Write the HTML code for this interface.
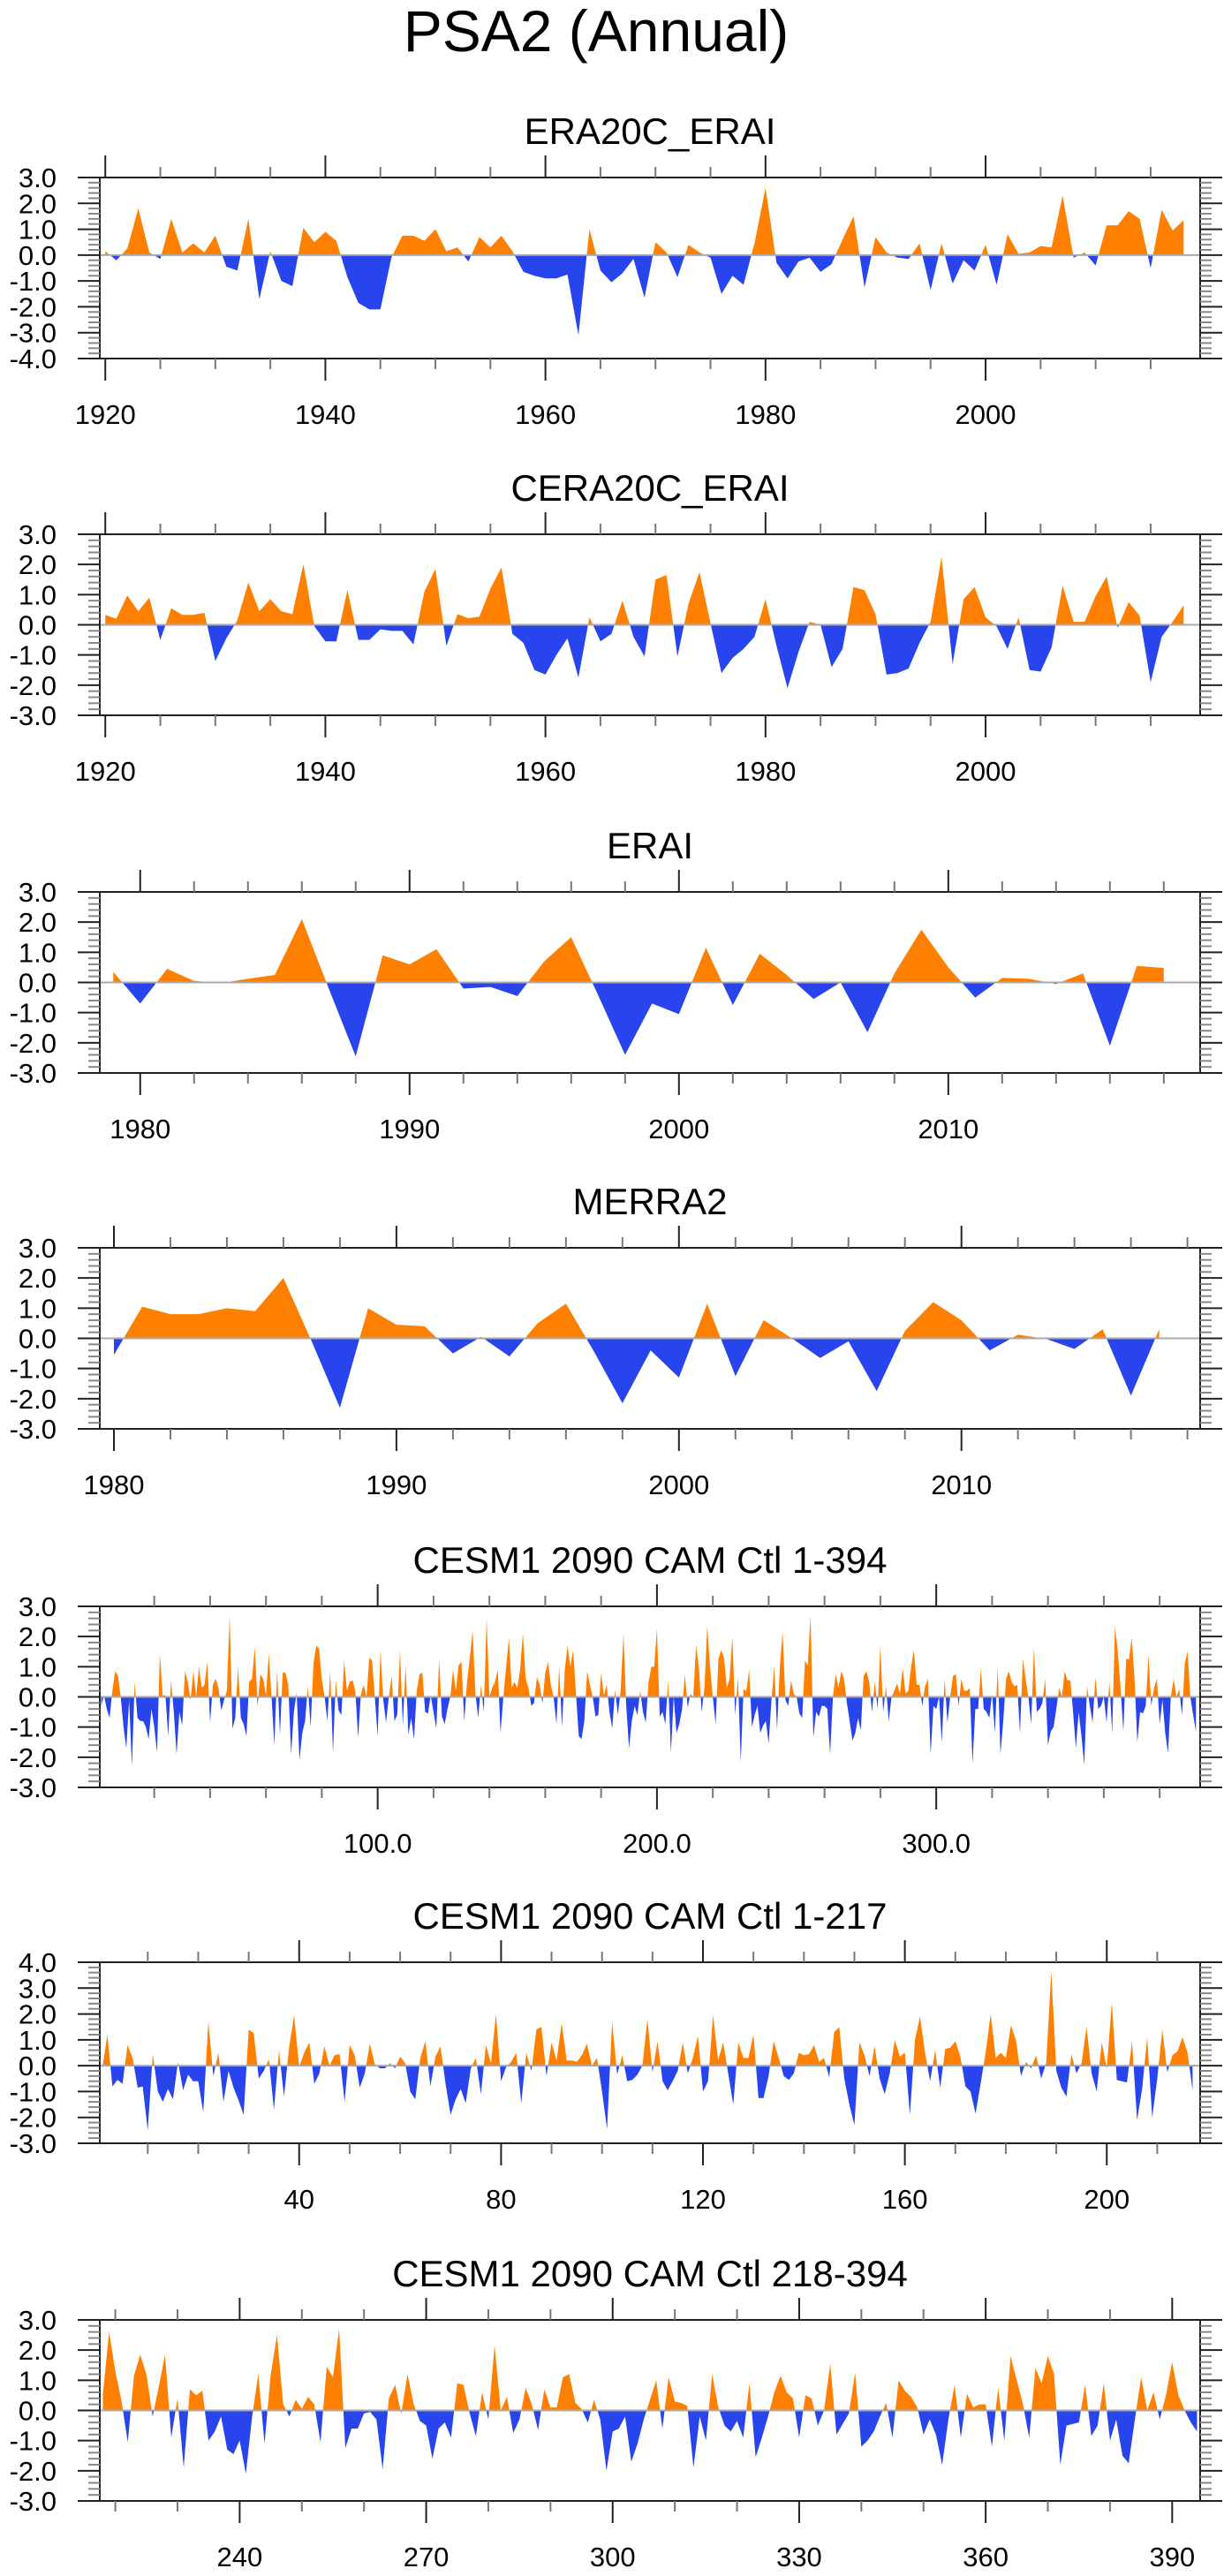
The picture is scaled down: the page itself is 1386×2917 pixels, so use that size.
<!DOCTYPE html>
<html><head><meta charset="utf-8"><style>
html,body{margin:0;padding:0;background:#fff;}
svg{display:block;font-family:"Liberation Sans",Arial,sans-serif;}
</style></head>
<body>
<svg id="chart" width="1386" height="2917" viewBox="0 0 1386 2917" xmlns="http://www.w3.org/2000/svg">
<rect x="0" y="0" width="1386" height="2917" fill="#fff"/>
<text x="675" y="58" font-size="66" text-anchor="middle" fill="#000">PSA2 (Annual)</text>
<g id="panels"></g>
</svg>
<script>
const era20cYears = [1920, 2018];
const era20cValues = [0.15,-0.2,0.25,1.8,0.1,-0.15,1.4,0.1,0.45,0.1,0.75,-0.45,-0.6,1.4,-1.7,0.15,-1.0,-1.2,1.05,0.5,0.9,0.55,-0.85,-1.85,-2.1,-2.1,-0.1,0.75,0.75,0.55,1.0,0.15,0.3,-0.25,0.7,0.3,0.75,0.15,-0.65,-0.8,-0.9,-0.9,-0.75,-3.1,1.0,-0.6,-1.05,-0.7,-0.15,-1.65,0.5,0.1,-0.85,0.4,0.1,-0.1,-1.5,-0.8,-1.15,0.45,2.6,-0.3,-0.9,-0.25,-0.1,-0.65,-0.35,0.6,1.5,-1.25,0.7,0.1,-0.1,-0.15,0.45,-1.35,0.45,-1.1,-0.2,-0.6,0.4,-1.15,0.8,0.05,0.1,0.35,0.3,2.3,-0.1,0.1,-0.4,1.15,1.15,1.7,1.4,-0.5,1.75,0.95,1.35];
const cera20cValues = [0.33,0.2,0.97,0.45,0.9,-0.5,0.55,0.33,0.33,0.4,-1.2,-0.45,0.15,1.4,0.45,0.85,0.45,0.35,2.0,-0.05,-0.55,-0.55,1.15,-0.5,-0.5,-0.15,-0.2,-0.2,-0.65,1.1,1.85,-0.7,0.35,0.22,0.27,1.2,1.9,-0.3,-0.6,-1.5,-1.65,-1.0,-0.45,-1.75,0.25,-0.55,-0.3,0.8,-0.4,-1.05,1.5,1.65,-1.05,0.7,1.75,0.05,-1.6,-1.1,-0.8,-0.4,0.85,-0.7,-2.1,-0.9,0.1,0.0,-1.4,-0.8,1.25,1.15,0.35,-1.65,-1.6,-1.45,-0.6,0.1,2.25,-1.3,0.85,1.25,0.25,-0.05,-0.8,0.25,-1.5,-1.55,-0.75,1.3,0.1,0.1,0.95,1.6,-0.1,0.75,0.3,-1.9,-0.4,0.1,0.65];
const eraiValues = [0.35,-0.7,0.45,0.05,-0.02,0.12,0.25,2.1,-0.2,-2.45,0.9,0.6,1.1,-0.2,-0.15,-0.45,0.7,1.5,-0.42,-2.4,-0.7,-1.05,1.15,-0.75,0.95,0.25,-0.55,0.0,-1.65,0.3,1.75,0.5,-0.5,0.15,0.12,-0.05,0.3,-2.1,0.55,0.48];
const merra2Values = [-0.55,1.05,0.8,0.8,1.0,0.9,2.0,-0.1,-2.3,1.0,0.45,0.4,-0.5,0.05,-0.6,0.5,1.15,-0.45,-2.15,-0.4,-1.3,1.15,-1.25,0.6,0.0,-0.65,-0.1,-1.75,0.25,1.2,0.6,-0.4,0.12,-0.02,-0.35,0.3,-1.9,0.3];
const cesmAllA = [-0.3,0.05,-0.4,-0.7,0.2,0.85,0.7,0.0,-1.0,-1.7,-0.1,-2.3,0.5,-0.7,-0.8,-0.8,-1.0,-1.4,-0.4,-1.0,-1.85,1.45,0.05,0.05,-1.3,0.55,-0.5,-1.9,-0.5,-0.95,0.85,0.5,-0.1,0.85,0.0,1.0,0.3,0.4,1.15,-0.85,0.4,0.6,0.3,-0.45,-0.1,0.2,2.7,-1.05,-0.7,1.0,-0.7,-0.9,-1.3,0.5,0.6,1.65,-0.3,0.75,0.6,0.05,1.45,0.0,-1.6,0.9,-1.25,0.8,0.8,0.4,-1.9,-0.5,0.15,-2.1,-1.2,-0.8,0.35,-1.0,1.1,1.7,1.6,0.6,0.0,-0.8,0.85,-1.85,0.55,-0.45,-0.6,1.2,0.2,0.5,0.55,0.2,-1.35,0.1,0.4,0.0,1.3,1.2,-0.05,-1.3,1.55,-0.1,-0.85,0.0,0.7,-0.8,-0.6,1.55,-0.95,1.05,-1.25,-0.7,-1.4,0.2,0.75,0.8,-0.5,-0.55,0.05,-0.5,-1.05,1.25,-0.65,-0.9,-0.4,0.0,0.9,0.2,1.05,1.15,-0.8,0.5,1.3,2.2,0.1,-0.7,0.4,-0.5,2.6,0.0,0.3,0.5,0.9,-1.2,0.0,1.0,1.95,0.3,0.5,0.3,0.9,2.1,0.6,0.3,-0.3,-0.2,0.65,0.4,-0.2,0.8,1.15,0.4,0.0,-0.9,1.0,-1.0,0.9,1.7,1.0,1.55,0.1,-1.3,-1.4,-0.8,0.85,0.4,0.0,-0.65,-0.6,0.8,0.05,0.4,-0.5,-1.05,0.25,-0.6,0.2,2.1,-0.3,-1.7,-0.8,-0.3,-0.6,0.2,-0.5];
const cesmAllB = [-0.85,0.5,1.0,1.0,2.25,-0.65,-0.5,-0.9,0.55,-1.85,0.0,-1.2,-0.9,-0.4,0.75,-0.35,0.1,0.0,1.7,1.0,-0.5,0.3,2.35,1.0,0.0,-0.9,1.25,1.55,1.3,0.3,0.6,2.0,-0.6,0.65,-2.15,0.25,0.2,0.9,-1.0,-0.6,-0.3,-1.2,-0.95,-0.8,-1.55,-0.1,1.0,-1.1,1.0,2.15,-0.1,-0.3,0.55,0.1,0.0,-0.55,-0.7,1.2,1.05,2.7,-1.35,-0.5,-0.65,-0.3,-0.3,-0.4,-1.9,0.0,0.75,0.3,0.85,0.6,-0.2,-0.8,-1.45,-1.2,-0.7,-1.1,0.7,0.85,0.5,-0.5,0.5,-0.4,1.7,-0.5,0.35,-0.8,0.0,0.2,0.45,0.1,0.95,0.1,0.2,1.0,1.55,0.4,0.4,-0.3,0.35,0.6,-1.9,-0.3,-0.4,0.0,-1.5,0.6,-0.85,0.0,0.7,0.75,-0.3,0.6,0.2,0.2,0.3,-2.2,-0.4,-0.4,0.95,-0.4,-0.5,-0.7,0.1,-1.2,1.0,-1.9,-0.8,0.6,0.85,0.5,0.35,0.4,-1.2,1.25,0.6,0.0,-0.9,1.65,-0.5,-0.4,-0.2,0.6,-1.6,-1.15,-1.0,-0.4,0.3,0.0,0.85,0.55,0.55,-0.5,-1.7,-0.5,-1.3,-2.25,0.35,-0.3,-0.85,0.65,-0.4,-0.3,0.0,-0.85,0.5,-1.2,2.35,1.5,0.3,-1.15,1.25,1.25,1.95,0.6,-1.5,-0.5,-0.55,-0.3,1.4,-0.3,0.3,0.6,-0.9,-0.1,-1.2,-1.85,0.0,0.6,0.0,0.25,-0.6,1.1,1.5,0.0,-0.6,-1.15];
const cesm1to217 = [-0.1,1.2,-0.8,-0.55,-0.7,0.8,0.3,-0.85,-0.8,-2.5,0.45,-1.0,-1.4,-0.9,-1.3,0.15,-0.95,-0.35,-0.6,-0.6,-1.8,1.7,-0.4,0.5,-1.4,-0.2,-0.85,-1.35,-1.9,1.4,1.25,-0.5,-0.2,0.25,-1.7,0.6,-1.2,0.7,1.95,-0.05,0.5,0.9,-0.7,-0.3,0.75,0.0,0.4,0.45,-1.4,0.8,0.4,-0.85,-0.3,0.85,0.05,-0.1,-0.1,0.1,-0.1,0.35,0.1,-1.0,-1.3,0.3,0.95,-0.8,0.35,0.75,-0.7,-1.9,-1.3,-0.9,-1.45,-0.1,0.3,-1.1,0.8,0.1,2.0,-0.6,-0.05,0.15,0.5,-1.45,0.5,-0.2,1.4,1.5,-0.4,0.9,0.2,1.65,0.2,0.2,0.15,0.4,0.85,0.0,0.3,-1.0,-2.45,1.7,-0.35,0.4,-0.6,-0.55,-0.35,0.0,1.8,-0.25,0.95,-0.6,-0.95,-0.6,-0.2,0.9,-0.3,0.3,1.15,-1.0,-0.6,1.95,0.2,0.9,-0.3,-1.5,0.9,0.3,0.3,1.2,-1.25,-1.25,-0.4,0.95,0.3,-0.4,-0.55,-0.3,0.5,0.4,0.45,0.8,0.15,0.3,-0.45,1.3,1.5,-0.5,-1.5,-2.3,0.9,0.4,-0.4,0.75,-0.5,-1.1,-0.3,1.0,0.35,0.5,-1.9,1.0,1.9,0.5,-0.6,0.6,-0.85,0.65,0.7,0.95,0.35,-0.8,-1.0,-1.85,-0.7,0.5,2.0,0.3,0.5,0.3,1.55,1.0,-0.4,0.15,-0.1,0.4,-0.5,0.1,3.65,-0.2,-0.85,-1.2,0.45,-0.3,0.1,1.5,-0.3,-1.0,0.9,-0.1,2.45,-0.55,-0.6,-0.65,0.95,-2.1,-0.9,1.1,-2.0,-0.5,1.4,-0.25,0.4,0.55,1.1,0.5,-0.95];
const cesm218to394 = [0.55,2.6,1.3,0.3,-1.05,1.15,1.85,1.2,-0.2,0.8,1.85,-0.9,0.4,-1.9,0.7,0.5,0.65,-1.0,-0.7,-0.2,-1.3,-1.45,-1.0,-2.1,-0.2,1.2,-1.1,1.2,2.5,0.2,-0.2,0.35,0.05,0.45,0.2,-1.05,1.45,1.1,2.7,-1.25,-0.6,-0.6,-0.1,-0.05,-0.3,-1.95,0.4,0.85,-0.1,1.2,0.2,-0.35,-0.5,-1.6,-0.6,-0.4,-0.9,0.9,0.85,-0.1,-0.85,0.6,-0.3,2.15,0.0,0.45,-0.75,-0.3,0.75,0.2,-0.65,0.7,0.1,0.1,1.1,1.2,0.25,0.05,-0.4,0.35,-0.3,-2.0,-0.7,-0.6,-0.2,-1.7,-1.1,-0.3,0.35,1.0,-0.6,1.1,0.3,0.25,0.15,-1.9,-0.2,-1.0,1.2,0.1,-0.5,-0.7,-0.35,-0.9,0.9,-1.55,-0.9,-0.2,0.6,1.15,0.6,0.4,-0.9,0.5,0.4,-0.5,0.0,1.55,-0.8,-0.45,-0.1,1.25,-1.2,-1.0,-0.7,-0.2,0.25,-0.9,1.0,0.65,0.45,0.1,-0.8,-0.3,-0.8,-1.8,-0.3,0.85,-0.9,0.55,0.1,0.2,0.2,-1.2,0.75,-1.0,1.8,1.0,0.2,-0.9,1.4,0.9,1.8,1.2,-1.8,-0.5,-0.45,-0.4,0.85,-0.85,-0.5,0.9,-1.0,-0.3,-1.5,-1.75,-0.3,1.1,0.0,0.6,-0.3,0.5,1.6,0.5,0.0,-0.4,-0.7];

const yTicks37 = ["3.0","2.0","1.0","0.0","-1.0","-2.0","-3.0","-4.0"];
const yTicks33 = ["3.0","2.0","1.0","0.0","-1.0","-2.0","-3.0"];
const yTicks43 = ["4.0","3.0","2.0","1.0","0.0","-1.0","-2.0","-3.0"];
const yearTicks20 = [1920,1940,1960,1980,2000];
const yearTicks10a = [1980,1990,2000,2010];
const idxTicks100 = [100,200,300];
const idxTickLabels100 = ["100.0","200.0","300.0"];
const idxTicks40 = [40,80,120,160,200];
const idxTicks30 = [240,270,300,330,360,390];

const NS = "http://www.w3.org/2000/svg";
const root = document.getElementById('panels');
function mk(tag, attrs, parent){
  const e = document.createElementNS(NS, tag);
  for (const k in attrs) e.setAttribute(k, attrs[k]);
  (parent||root).appendChild(e);
  return e;
}
const L = 113, R = 1359, H = 205;

function panel(cfg, pi){
  const top = cfg.top, bot = top + H;
  const g = mk('g', {});
  
  
  const xs = v => L + (v - cfg.xmin) / (cfg.xmax - cfg.xmin) * (R - L);
  const ys = v => top + (cfg.ymax - v) / (cfg.ymax - cfg.ymin) * H;
  const y0 = ys(0);
  // title
  const t = mk('text', {x: (L+R)/2, y: top - 38, 'font-size': 42, 'text-anchor': 'middle', fill: '#000'}, g);
  t.textContent = cfg.title;
  
  
  // area
  const cidA = 'ca' + pi, cidB = 'cb' + pi;
  const defs = mk('defs', {}, g);
  const c1 = mk('clipPath', {id: cidA}, defs);
  mk('rect', {x: L, y: top, width: R-L, height: y0-top}, c1);
  const c2 = mk('clipPath', {id: cidB}, defs);
  mk('rect', {x: L, y: y0, width: R-L, height: bot-y0}, c2);
  let d = '';
  cfg.values.forEach((v, k) => {
    const x = xs(cfg.start + k), y = ys(Math.max(cfg.ymin, Math.min(cfg.ymax, v)));
    if (k === 0) d += 'M' + x.toFixed(2) + ',' + y0.toFixed(2) + ' ';
    d += 'L' + x.toFixed(2) + ',' + y.toFixed(2) + ' ';
  });
  d += 'L' + xs(cfg.start + cfg.values.length - 1).toFixed(2) + ',' + y0.toFixed(2) + ' Z';
  const pos = mk('path', {d: d, fill: '#FF8000', 'clip-path': 'url(#' + cidA + ')'}, g);
  
  
  const neg = mk('path', {d: d, fill: '#2844EC', 'clip-path': 'url(#' + cidB + ')'}, g);
  
  
  const zl = mk('line', {x1: L, x2: R, y1: y0, y2: y0, stroke: '#aaaaaa', 'stroke-width': 2}, g);
  
  
  // frame
  const fr = mk('rect', {x: L, y: top, width: R-L, height: H, fill: 'none', stroke: '#222', 'stroke-width': 2}, g);
  
  
  // y ticks
  const ya = mk('g', {}, g);
  
  
  for (let m = Math.round(cfg.ymin*5); m <= Math.round(cfg.ymax*5); m++){
    const v = m/5, y = ys(v), major = (m % 5 === 0);
    const len = major ? 25 : 13;
    mk('line', {x1: L-len, x2: L, y1: y, y2: y, stroke: major ? '#222' : '#888', 'stroke-width': major?2:2}, ya);
    mk('line', {x1: R, x2: R+len, y1: y, y2: y, stroke: major ? '#222' : '#888', 'stroke-width': 2}, ya);
  }
  cfg.yLabels.forEach((s) => {
    const v = parseFloat(s);
    const tx = mk('text', {x: 64, y: ys(v) + 11, 'font-size': 31, 'text-anchor': 'end', fill: '#000'}, ya);
    tx.textContent = s;
  });
  // x ticks
  const xa = mk('g', {}, g);
  
  
  const first = Math.ceil(cfg.xmin / cfg.minor) * cfg.minor;
  for (let v = first; v <= cfg.xmax + 1e-9; v += cfg.minor){
    const x = xs(v), major = cfg.majors.indexOf(v) >= 0;
    const len = major ? 25 : 12;
    mk('line', {x1: x, x2: x, y1: top - len, y2: top, stroke: major ? '#222' : '#777', 'stroke-width': 2}, xa);
    mk('line', {x1: x, x2: x, y1: bot, y2: bot + len, stroke: major ? '#222' : '#777', 'stroke-width': 2}, xa);
  }
  cfg.majors.forEach((v, k) => {
    const tx = mk('text', {x: xs(v), y: bot + 74, 'font-size': 31, 'text-anchor': 'middle', fill: '#000'}, xa);
    tx.textContent = cfg.xLabels ? cfg.xLabels[k] : String(v);
  });
}

const panels = [
  {name:'era20c-erai', title:'ERA20C_ERAI', top:201, ymin:-4, ymax:3, yLabels:yTicks37, xmin:1919.5, xmax:2019.5, start:1920, values:era20cValues, majors:yearTicks20, minor:5},
  {name:'cera20c-erai', title:'CERA20C_ERAI', top:605, ymin:-3, ymax:3, yLabels:yTicks33, xmin:1919.5, xmax:2019.5, start:1920, values:cera20cValues, majors:yearTicks20, minor:5},
  {name:'erai', title:'ERAI', top:1010, ymin:-3, ymax:3, yLabels:yTicks33, xmin:1978.5, xmax:2019.35, start:1979, values:eraiValues, majors:yearTicks10a, minor:2},
  {name:'merra2', title:'MERRA2', top:1413, ymin:-3, ymax:3, yLabels:yTicks33, xmin:1979.5, xmax:2018.45, start:1980, values:merra2Values, majors:yearTicks10a, minor:2},
  {name:'cesm-1-394', title:'CESM1 2090 CAM Ctl 1-394', top:1819, ymin:-3, ymax:3, yLabels:yTicks33, xmin:0.5, xmax:394.5, start:1, values:cesmAllA.concat(cesmAllB), majors:idxTicks100, xLabels:idxTickLabels100, minor:20},
  {name:'cesm-1-217', title:'CESM1 2090 CAM Ctl 1-217', top:2222, ymin:-3, ymax:4, yLabels:yTicks43, xmin:0.5, xmax:218.5, start:1, values:cesm1to217, majors:idxTicks40, minor:10},
  {name:'cesm-218-394', title:'CESM1 2090 CAM Ctl 218-394', top:2627, ymin:-3, ymax:3, yLabels:yTicks33, xmin:217.5, xmax:394.5, start:218, values:cesm218to394, majors:idxTicks30, minor:10}
];
panels.forEach(panel);
</script>
</body></html>
